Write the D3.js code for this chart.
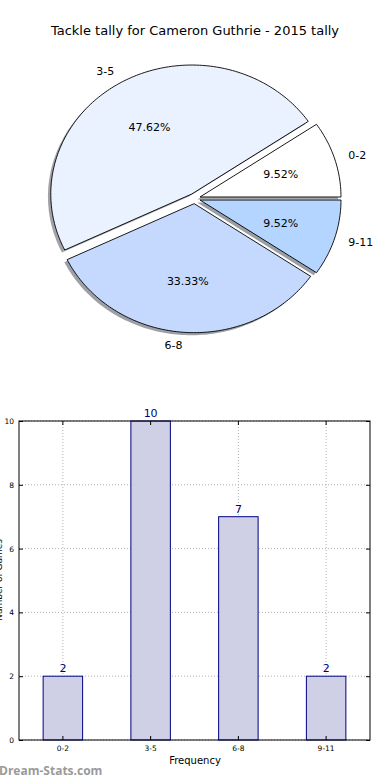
<!DOCTYPE html>
<html>
<head>
<meta charset="utf-8">
<script src="https://cdn.jsdelivr.net/npm/d3@7"></script>
<style>
  body { margin: 0; background: #fff; }
  svg { display: block; font-family: "DejaVu Sans", sans-serif; }
</style>
</head>
<body>
<div id="chart"></div>
<script>
// data
var categories = ["0-2", "3-5", "6-8", "9-11"];
var counts = [2, 10, 7, 2];
var pieColors = ["#ffffff", "#eaf1ff", "#c5d9ff", "#b3d5ff"];
var yTicks = [0, 2, 4, 6, 8, 10];
var title = "Tackle tally for Cameron Guthrie - 2015 tally";

var svgWidth = 390;
var svgHeight = 780;

var svg = d3.select("#chart")
  .append("svg")
  .attr("width", svgWidth)
  .attr("height", svgHeight);

svg.append("text")
  .attr("x", 195)
  .attr("y", 35)
  .attr("text-anchor", "middle")
  .attr("font-size", "13px")
  .text(title);

// ---------- pie (matplotlib style: starts at 3 o'clock, counter-clockwise) ----------
var cx = 194.6, cy = 198.5, rx = 141, ry = 129;
var px = d3.scaleLinear().domain([-1, 1]).range([cx - rx, cx + rx]);
var py = d3.scaleLinear().domain([-1, 1]).range([cy + ry, cy - ry]);
var explode = 0.04;

var total = d3.sum(counts);
var slices = [];
var acc = 0;
counts.forEach(function(c, i) {
  var a0 = acc / total * 2 * Math.PI;
  acc += c;
  var a1 = acc / total * 2 * Math.PI;
  var mid = (a0 + a1) / 2;
  slices.push({
    name: categories[i],
    value: c,
    a0: a0, a1: a1, mid: mid,
    ox: explode * Math.cos(mid),
    oy: explode * Math.sin(mid),
    color: pieColors[i]
  });
});

function slicePoints(s, dx, dy) {
  var pts = [[s.ox + dx, s.oy + dy]];
  var n = Math.max(8, Math.ceil((s.a1 - s.a0) / 0.02));
  for (var k = 0; k <= n; k++) {
    var a = s.a0 + (s.a1 - s.a0) * k / n;
    pts.push([s.ox + dx + Math.cos(a), s.oy + dy + Math.sin(a)]);
  }
  return pts;
}

var pieLine = d3.line()
  .x(function(p) { return px(p[0]); })
  .y(function(p) { return py(p[1]); })
  .curve(d3.curveLinearClosed);

var pieGroup = svg.append("g");

// shadows first
pieGroup.selectAll(".shadow")
  .data(slices)
  .enter()
  .append("path")
  .attr("class", "shadow")
  .attr("d", function(d) { return pieLine(slicePoints(d, -0.02, -0.02)); })
  .attr("fill", function(d) {
    var c = d3.rgb(d.color);
    return d3.rgb(c.r * 0.3, c.g * 0.3, c.b * 0.3);
  })
  .attr("opacity", 0.5);

pieGroup.selectAll(".slice")
  .data(slices)
  .enter()
  .append("path")
  .attr("class", "slice")
  .attr("d", function(d) { return pieLine(slicePoints(d, 0, 0)); })
  .attr("fill", function(d) { return d.color; })
  .attr("stroke", "#000")
  .attr("stroke-width", 0.9)
  .attr("stroke-linejoin", "round");

pieGroup.selectAll(".pct")
  .data(slices)
  .enter()
  .append("text")
  .attr("x", function(d) { return px(d.ox + 0.6 * Math.cos(d.mid)); })
  .attr("y", function(d) { return py(d.oy + 0.6 * Math.sin(d.mid)); })
  .attr("dy", "0.35em")
  .attr("text-anchor", "middle")
  .attr("font-size", "11px")
  .text(function(d) { return (d.value / total * 100).toFixed(2) + "%"; });

pieGroup.selectAll(".lbl")
  .data(slices)
  .enter()
  .append("text")
  .attr("x", function(d) { return px(d.ox + 1.1 * Math.cos(d.mid)); })
  .attr("y", function(d) { return py(d.oy + 1.1 * Math.sin(d.mid)); })
  .attr("dy", "0.35em")
  .attr("text-anchor", function(d) { return Math.cos(d.mid) > 0 ? "start" : "end"; })
  .attr("font-size", "11px")
  .text(function(d) { return d.name; });

// ---------- bar chart ----------
var plotLeft = 19, plotRight = 370, plotTop = 421, plotBottom = 740;

var xScale = d3.scaleBand()
  .domain(categories)
  .range([plotLeft, plotRight])
  .paddingInner(0.55)
  .paddingOuter(0.275);

var yScale = d3.scaleLinear()
  .domain([0, 10])
  .range([plotBottom, plotTop]);

var barGroup = svg.append("g");

// grid
barGroup.selectAll(".hgrid")
  .data(yTicks)
  .enter()
  .append("line")
  .attr("x1", plotLeft).attr("x2", plotRight)
  .attr("y1", function(d) { return yScale(d); })
  .attr("y2", function(d) { return yScale(d); })
  .attr("stroke", "#b0b0b0")
  .attr("stroke-width", 1)
  .attr("stroke-dasharray", "1,2");

barGroup.selectAll(".vgrid")
  .data(categories)
  .enter()
  .append("line")
  .attr("x1", function(d) { return xScale(d) + xScale.bandwidth() / 2; })
  .attr("x2", function(d) { return xScale(d) + xScale.bandwidth() / 2; })
  .attr("y1", plotTop).attr("y2", plotBottom)
  .attr("stroke", "#b0b0b0")
  .attr("stroke-width", 1)
  .attr("stroke-dasharray", "1,2");

barGroup.selectAll(".bar")
  .data(counts)
  .enter()
  .append("rect")
  .attr("x", function(d, i) { return xScale(categories[i]); })
  .attr("y", function(d) { return yScale(d); })
  .attr("width", xScale.bandwidth())
  .attr("height", function(d) { return plotBottom - yScale(d); })
  .attr("fill", "#cccce5")
  .attr("fill-opacity", 0.95)
  .attr("stroke", "#000080")
  .attr("stroke-width", 1);

barGroup.selectAll(".val")
  .data(counts)
  .enter()
  .append("text")
  .attr("x", function(d, i) { return xScale(categories[i]) + xScale.bandwidth() / 2; })
  .attr("y", function(d) { return yScale(d) - 4; })
  .attr("text-anchor", "middle")
  .attr("font-size", "11px")
  .attr("fill", "#000080")
  .text(function(d) { return d; });

// axes with inward ticks, classic matplotlib look
var leftAxis = d3.axisLeft(yScale).tickValues(yTicks).tickSizeInner(-4).tickSizeOuter(0).tickPadding(5);
var rightAxis = d3.axisRight(yScale).tickValues(yTicks).tickSizeInner(-4).tickSizeOuter(0).tickFormat("");
var bottomAxis = d3.axisBottom(xScale).tickSizeInner(-4).tickSizeOuter(0).tickPadding(6);
var topAxis = d3.axisTop(xScale).tickSizeInner(-4).tickSizeOuter(0).tickFormat("");

function styleAxis(g) {
  g.select(".domain").remove();
  g.selectAll("line").attr("stroke", "#000");
  g.selectAll("text").attr("font-size", "7.5px").attr("font-family", "DejaVu Sans, sans-serif").attr("fill", "#000");
}

barGroup.append("g").attr("transform", "translate(" + plotLeft + ",0)").call(leftAxis).call(styleAxis);
barGroup.append("g").attr("transform", "translate(" + plotRight + ",0)").call(rightAxis).call(styleAxis);
barGroup.append("g").attr("transform", "translate(0," + plotBottom + ")").call(bottomAxis).call(styleAxis);
barGroup.append("g").attr("transform", "translate(0," + plotTop + ")").call(topAxis).call(styleAxis);

barGroup.append("rect")
  .attr("x", plotLeft).attr("y", plotTop)
  .attr("width", plotRight - plotLeft).attr("height", plotBottom - plotTop)
  .attr("fill", "none")
  .attr("stroke", "#000")
  .attr("stroke-width", 1);

svg.append("text")
  .attr("x", 195)
  .attr("y", 764)
  .attr("text-anchor", "middle")
  .attr("font-size", "10px")
  .text("Frequency");

svg.append("text")
  .attr("transform", "translate(2, 580) rotate(-90)")
  .attr("text-anchor", "middle")
  .attr("font-size", "9px")
  .text("Number of Games");

svg.append("text")
  .attr("x", -1)
  .attr("y", 775)
  .attr("font-size", "12px")
  .attr("font-weight", "bold")
  .attr("fill", "#9a9a9a")
  .attr("font-family", "Open Sans, sans-serif")
  .text("Dream-Stats.com");
</script>
</body>
</html>
